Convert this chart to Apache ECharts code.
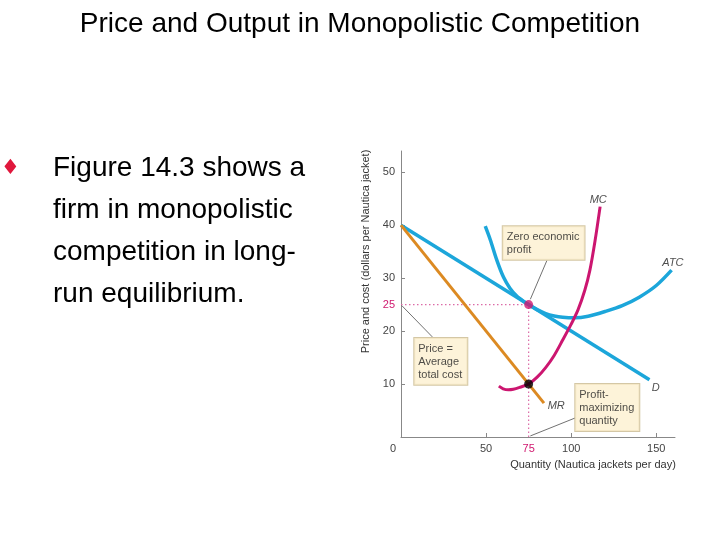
<!DOCTYPE html>
<html>
<head>
<meta charset="utf-8">
<script src="https://cdn.jsdelivr.net/npm/echarts@6/dist/echarts.min.js"></script>
<style>html,body{margin:0;padding:0;background:#fff;}#c{width:720px;height:540px;}</style>
</head>
<body>
<div id="c"></div>
<script>
// ---- data ----
const titleText = 'Price and Output in Monopolistic Competition';
const bulletLines = ['Figure 14.3 shows a', 'firm in monopolistic', 'competition in long-', 'run equilibrium.'];
const xLabelValues = [0, 50, 75, 100, 150];
const xTickValues = [50, 100, 150];
const yLabelValues = [10, 20, 25, 30, 40, 50];
const yTickValues = [10, 20, 30, 40, 50];
const demand = [[0, 40], [146, 10.8]];
const marginalRevenue = [[0, 40], [84, 6.4]];
const averageTotalCost = [[49.5, 39.8], [52.5, 37.2], [56.3, 33.4], [60.2, 30.2], [64, 28.1], [68, 26.6], [72, 25.6], [75, 25], [80, 24.05], [85, 23.3], [90, 22.85], [95, 22.6], [102, 22.5], [110, 22.8], [120, 23.7], [130, 24.8], [140, 26.4], [150, 28.6], [159, 31.5]];
const marginalCost = [[57.5, 9.6], [60, 9.1], [63, 8.9], [66, 9.0], [70, 9.4], [75, 10], [80, 11.3], [85, 13.1], [90, 15.4], [95, 18.3], [100, 21.3], [104, 24], [108, 27.7], [111, 31.5], [114, 37], [117, 43.5]];
const equilibriumPoint = [75, 25];
const mcEqualsMrPoint = [75, 10];
const priceGuide = [[0, 25], [75, 25]];
const quantityGuide = [[75, 0], [75, 25]];
const curveLabels = [
  { name: 'MC', at: [115.9, 44.7] },
  { name: 'ATC', at: [159.8, 32.8] },
  { name: 'D', at: [149.6, 9.3] },
  { name: 'MR', at: [91.2, 5.8] }
];
const notes = [
  { text: 'Zero economic\nprofit', at: [59.8, 39.8], leader: [[85.7, 33.3], [76, 26]] },
  { text: 'Price =\nAverage\ntotal cost', at: [7.8, 18.7], leader: [[18.4, 18.9], [0.5, 24.8]] },
  { text: 'Profit-\nmaximizing\nquantity', at: [102.4, 10.0], leader: [[102.4, 3.6], [76, 0.2]] }
];

// ---- chart ----
const PINK = '#d0186f';
const chart = echarts.init(document.getElementById('c'));
const font = 'Liberation Sans, Arial, sans-serif';

function axisFmt(highlight) {
  return function (v) {
    if (v === highlight) return '{p|' + v + '}';
    if (v === 0) return '{z|0}';
    return '{n|' + v + '}';
  };
}
const labelRich = {
  p: { color: PINK, fontSize: 11, fontFamily: font },
  n: { color: '#444', fontSize: 11, fontFamily: font },
  z: { color: '#444', fontSize: 11, fontFamily: font, padding: [0, 16, 0, 0] }
};

const series = [];
series.push({
  type: 'line', data: priceGuide, symbol: 'none', silent: true,
  lineStyle: { color: '#dc6aa6', width: 1.2, type: [1.5, 2.5] }, z: 1
});
series.push({
  type: 'line', data: quantityGuide, symbol: 'none', silent: true,
  lineStyle: { color: '#dc6aa6', width: 1.2, type: [1.5, 2.5] }, z: 1
});
series.push({ name: 'D', type: 'line', data: demand, symbol: 'none', lineStyle: { color: '#1ca6da', width: 3.5 }, z: 2 });
series.push({ name: 'ATC', type: 'line', data: averageTotalCost, symbol: 'none', smooth: 0.3, lineStyle: { color: '#1ca6da', width: 3.5 }, z: 2 });
series.push({ name: 'MR', type: 'line', data: marginalRevenue, symbol: 'none', lineStyle: { color: '#dc8a22', width: 3 }, z: 3 });
series.push({ name: 'MC', type: 'line', data: marginalCost, symbol: 'none', smooth: 0.3, lineStyle: { color: '#cc1670', width: 3 }, z: 4 });
notes.forEach(function (n) {
  series.push({
    type: 'line', data: n.leader, symbol: 'none', silent: true,
    lineStyle: { color: '#333', width: 0.7 }, z: 5
  });
  series.push({
    type: 'scatter', data: [n.at], symbolSize: 0, silent: true, z: 6,
    label: {
      show: true, position: [0, 0], align: 'left', verticalAlign: 'top',
      formatter: n.text, fontFamily: font, fontSize: 11, color: '#222', lineHeight: 13.3,
      backgroundColor: '#fdf0cf', borderColor: '#c9b98e', borderWidth: 1, padding: [4, 5, 3, 4]
    }
  });
});
series.push({ type: 'scatter', data: [equilibriumPoint], symbolSize: 9, itemStyle: { color: PINK }, z: 7 });
series.push({ type: 'scatter', data: [mcEqualsMrPoint], symbolSize: 9, itemStyle: { color: '#000' }, z: 7 });
series.push({
  type: 'scatter', data: curveLabels.map(function (c) { return { value: c.at, name: c.name }; }),
  symbolSize: 0, silent: true, z: 6,
  label: { show: true, position: 'inside', formatter: '{b}', fontStyle: 'italic', fontFamily: font, fontSize: 11, color: '#222' }
});

chart.setOption({
  animation: false,
  backgroundColor: '#fff',
  grid: { left: 401, right: 45, top: 151, bottom: 103, containLabel: false },
  xAxis: {
    type: 'value', min: 0, max: 161,
    name: 'Quantity (Nautica jackets per day)', nameLocation: 'middle', nameGap: 22,
    nameTextStyle: { fontFamily: font, fontSize: 11, color: '#333', padding: [0, 0, 0, 110] },
    axisLine: { lineStyle: { color: '#888', width: 1 } },
    axisTick: { show: true, inside: true, length: 4, customValues: xTickValues, lineStyle: { color: '#888' } },
    axisLabel: { customValues: xLabelValues, margin: 6, formatter: axisFmt(75), rich: labelRich },
    splitLine: { show: false }
  },
  yAxis: {
    type: 'value', min: 0, max: 54,
    name: 'Price and cost (dollars per Nautica jacket)', nameLocation: 'middle', nameGap: 30, nameRotate: 90,
    nameTextStyle: { fontFamily: font, fontSize: 11, color: '#333', padding: [0, 0, 0, 85] },
    axisLine: { show: true, lineStyle: { color: '#888', width: 1 } },
    axisTick: { show: true, inside: true, length: 4, customValues: yTickValues, lineStyle: { color: '#888' } },
    axisLabel: { customValues: yLabelValues, margin: 6, formatter: axisFmt(25), rich: labelRich },
    splitLine: { show: false }
  },
  graphic: [
    { type: 'text', left: 'center', top: 10, style: { text: titleText, font: '28px ' + font, fill: '#000' } },
    { type: 'text', x: 1, y: 158, style: { text: '\u2666', font: '21px DejaVu Sans', fill: '#e0173c' } },
    { type: 'text', x: 53, y: 147, style: { text: bulletLines.join('\n'), font: '28px ' + font, fill: '#000', lineHeight: 42 } }
  ],
  series: series
});
</script>
</body>
</html>
